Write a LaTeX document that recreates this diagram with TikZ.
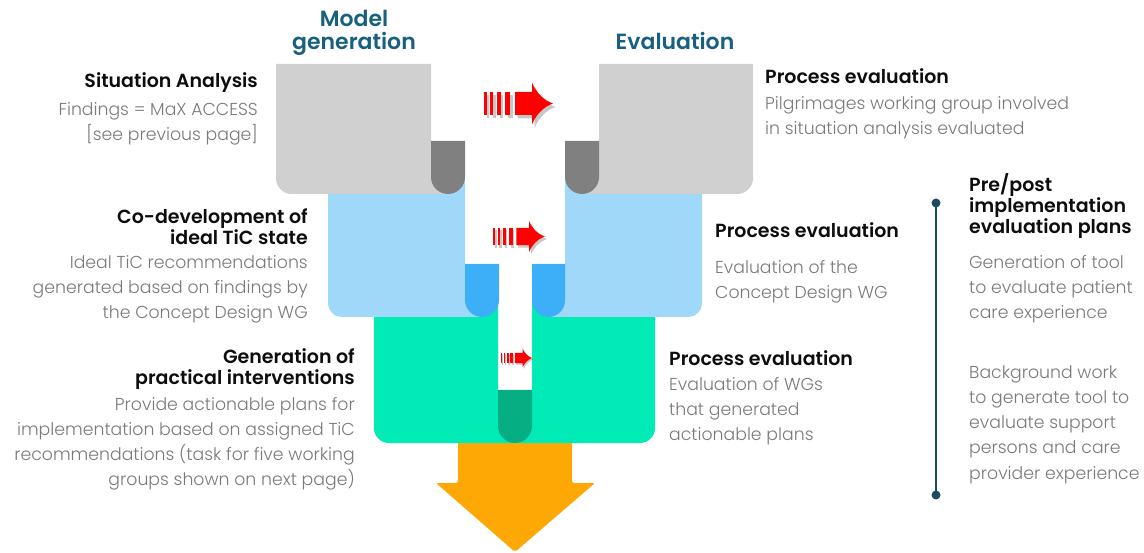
\documentclass[tikz,border=0pt]{standalone}
\usepackage{fontspec}
\IfFontExistsTF{Poppins Light}{\newfontfamily\bodyfont{Poppins Light}}{\newfontfamily\bodyfont{Poppins}}
\IfFontExistsTF{Poppins SemiBold}{\newfontfamily\headfont{Poppins SemiBold}}{\newfontfamily\headfont{Poppins}[FakeBold=1.2]}
\definecolor{lgray}{HTML}{D0D0D0}
\definecolor{dgray}{HTML}{808080}
\definecolor{lblue}{HTML}{A0D8FA}
\definecolor{dblue}{HTML}{3DAEF8}
\definecolor{lgreen}{HTML}{00EBB5}
\definecolor{dgreen}{HTML}{05AF83}
\definecolor{orng}{HTML}{FEA806}
\definecolor{titleblue}{HTML}{17617F}
\definecolor{linecol}{HTML}{1C4A62}
\definecolor{graytxt}{HTML}{7A7A7A}
\definecolor{headtxt}{HTML}{0D0D0D}
\newcommand\tabpath[5]{% color, xl, xr, yt, yb
  \pgfmathsetmacro\tabR{(#3-#2)/2}\pgfmathsetmacro\tabK{0.552*\tabR}\pgfmathsetmacro\tabC{(#2+#3)/2}%
  \fill[#1] (#2,#4) -- (#3,#4) -- (#3,#5-\tabR) .. controls (#3,#5-\tabR+\tabK) and (\tabC+\tabK,#5) .. (\tabC,#5)
    .. controls (\tabC-\tabK,#5) and (#2,#5-\tabR+\tabK) .. (#2,#5-\tabR) -- cycle;}
\newcommand\lblock[8]{% color, xl, xnotch, xr, yt, ynotch, yb, r
  \pgfmathsetmacro\blkK{0.552*#8}%
  \fill[#1] (#2,#5) -- (#3,#5) -- (#3,#6) -- (#4,#6) -- (#4,#7) -- (#2+#8,#7)
    .. controls (#2+#8-\blkK,#7) and (#2,#7-\blkK) .. (#2,#7-#8) -- cycle;}
\newcommand\rblock[8]{% color, xr, xnotch, xl, yt, ynotch, yb, r
  \pgfmathsetmacro\blkK{0.552*#8}%
  \fill[#1] (#2,#5) -- (#3,#5) -- (#3,#6) -- (#4,#6) -- (#4,#7) -- (#2-#8,#7)
    .. controls (#2-#8+\blkK,#7) and (#2,#7-\blkK) .. (#2,#7-#8) -- cycle;}
\newcommand\arrshape[1]{%
  \fill[#1] (0,-11.5) rectangle (2.7,11.5);
  \fill[#1] (6,-11.5) rectangle (9.3,11.5);
  \fill[#1] (13,-11.5) rectangle (16.8,11.5);
  \fill[#1] (21,-11.5) rectangle (26,11.5);
  \fill[#1] (31,-11.5) -- (48,-11.5) -- (48,-21) .. controls (52,-11) and (60,-3) .. (69,0)
     .. controls (60,3) and (52,11) .. (48,21) -- (48,11.5) -- (31,11.5) -- cycle;}
\newcommand\redarr[3]{%
  \begin{scope}[shift={(#1,#2)}, scale=#3]
    \begin{scope}[shift={(2.5,3.5)}]\arrshape{black, opacity=0.22}\end{scope}
    \arrshape{red}
  \end{scope}}
\tikzset{
  body/.style={font=\bodyfont\fontsize{17.3}{25.2}\selectfont, text=graytxt, inner sep=0pt},
  head/.style={font=\headfont\fontsize{19}{21}\selectfont, text=headtxt, inner sep=0pt},
  title/.style={font=\headfont\fontsize{22}{23}\selectfont, text=titleblue, inner sep=0pt},
}
\begin{document}
\begin{tikzpicture}[x=1pt, y=-1pt]
\useasboundingbox (0,0) rectangle (1144,553);
% orange arrow
\fill[orng, rounded corners=2pt] (458,436) -- (572,436) -- (572,483) -- (595,483) -- (515,552) -- (436,483) -- (458,483) -- cycle;
% green level
\fill[lgreen] (374,300) -- (498,300) -- (498,400) -- (532,400) -- (532,300) -- (655,300) -- (655,428)
  .. controls (655,436.3) and (648.3,443) .. (640,443) -- (389,443) .. controls (380.7,443) and (374,436.3) .. (374,428) -- cycle;
\tabpath{dgreen}{498}{532}{390}{443}
% blue level
\lblock{lblue}{328}{465}{482}{180}{290}{317}{13}
\rblock{lblue}{702}{565}{548}{180}{290}{317}{13}
\tabpath{dblue}{465}{499}{264}{317}
\tabpath{dblue}{532}{565}{264}{317}
% gray level
\lblock{lgray}{276}{431}{448}{64}{165}{194}{15}
\rblock{lgray}{753}{599}{582}{64}{165}{194}{15}
\tabpath{dgray}{431}{465}{141}{194}
\tabpath{dgray}{565}{599}{141}{194}
% red arrows
\redarr{484}{103.5}{1}
\redarr{493}{236.5}{0.75}
\redarr{501}{358}{0.45}
% titles
\node[title, anchor=base] (tmodel) at (354,27) {Model};
\node[title, anchor=base] (tgen) at (354,50) {generation};
\node[title, anchor=base] (teval) at (675,50) {Evaluation};
% left texts
\node[head, anchor=base east] (sah) at (258,88) {Situation Analysis};
\node[body, anchor=north east, align=right] (sab) at (258,99) {\rule{0pt}{16pt}Findings = MaX ACCESS\\{}[see previous page]};
\node[head, anchor=north east, align=right] (cdh) at (308,206) {\rule{0pt}{17pt}Co-development of\\ideal TiC state};
\node[body, anchor=north east, align=right] (cdb) at (308,252) {\rule{0pt}{16pt}Ideal TiC recommendations\\generated based on findings by\\the Concept Design WG};
\node[head, anchor=north east, align=right] (gph) at (355,346) {\rule{0pt}{17pt}Generation of\\practical interventions};
\node[body, anchor=north east, align=right] (gpb) at (355,394) {\rule{0pt}{16pt}Provide actionable plans for\\implementation based on assigned TiC\\recommendations (task for five working\\groups shown on next page)};
% right texts
\node[head, anchor=base west] (pe1h) at (765,84) {Process evaluation};
\node[body, anchor=north west, align=left] (pe1b) at (765,93) {\rule{0pt}{16pt}Pilgrimages working group involved\\in situation analysis evaluated};
\node[head, anchor=base west] (pe2h) at (715,238) {Process evaluation};
\node[body, anchor=north west, align=left] (pe2b) at (715,257) {\rule{0pt}{16pt}Evaluation of the\\Concept Design WG};
\node[head, anchor=base west] (pe3h) at (669,366) {Process evaluation};
\node[body, anchor=north west, align=left] (pe3b) at (669,374) {\rule{0pt}{16pt}Evaluation of WGs\\that generated\\actionable plans};
% far right
\coordinate (ltop) at (936,203);
\coordinate (lbot) at (936,495);
\draw[linecol, line width=2.5pt] (ltop) -- (lbot);
\fill[linecol] (ltop) circle[radius=4.5pt];
\fill[linecol] (lbot) circle[radius=4.5pt];
\node[head, anchor=north west, align=left] (pph) at (969,173) {\rule{0pt}{17pt}Pre/post\\implementation\\evaluation plans};
\node[body, anchor=north west, align=left] (ppb1) at (969,252) {\rule{0pt}{16pt}Generation of tool\\to evaluate patient\\care experience};
\node[body, anchor=north west, align=left] (ppb2) at (969,362) {\rule{0pt}{16pt}Background work\\to generate tool to\\evaluate support\\persons and care\\provider experience};
\end{tikzpicture}
\end{document}
